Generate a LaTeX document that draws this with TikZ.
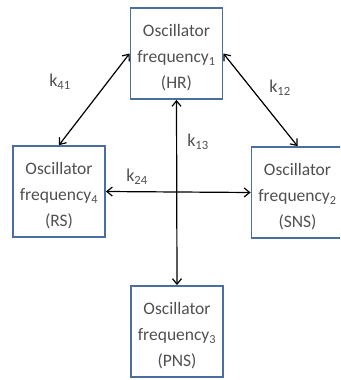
\documentclass[tikz,border=0pt]{standalone}
\usepackage{fontspec}
\setmainfont{Carlito}
\usetikzlibrary{arrows.meta}
\definecolor{boxblue}{HTML}{4A6E9E}
\definecolor{txtgrey}{HTML}{505050}
\newcommand{\topstrut}{\rule{0pt}{20.5pt}}
\begin{document}
\begin{tikzpicture}[x=1pt,y=-1pt,
  osc/.style={draw=boxblue, line width=1.8pt, minimum width=92pt, minimum height=91pt,
    align=center, inner sep=0pt, text=txtgrey, font=\fontsize{17.5}{26}\selectfont},
  link/.style={line width=1.2pt, {Straight Barb[length=5.5pt,width=9pt]}-{Straight Barb[length=5.5pt,width=9pt]}},
  klab/.style={text=txtgrey, font=\fontsize{18}{20}\selectfont, inner sep=0pt}]
\useasboundingbox (0,0) rectangle (340,380);
\clip (0,0) rectangle (340,380);
\node[osc] (hr) at (176.5,53.5) {\topstrut Oscillator\\frequency\textsubscript{1}\\(HR)};
\node[osc] (rs) at (59,191.5) {\topstrut Oscillator\\frequency\textsubscript{4}\\(RS)};
\node[osc] (sns) at (297.5,192.5) {\topstrut Oscillator\\frequency\textsubscript{2}\\(SNS)};
\node[osc] (pns) at (177,331.5) {\topstrut Oscillator\\frequency\textsubscript{3}\\(PNS)};
\draw[link] (hr.west) -- (rs.north);
\draw[link] (hr.east) -- (sns.north);
\draw[link] (hr.south) -- (pns.north);
\draw[link] (rs.east) -- (sns.west);
\node[klab] (k41) at (60,82) {k\textsubscript{41}};
\node[klab] (k12) at (280,88) {k\textsubscript{12}};
\node[klab] (k13) at (198,142) {k\textsubscript{13}};
\node[klab] (k24) at (137,177) {k\textsubscript{24}};
\end{tikzpicture}
\end{document}
